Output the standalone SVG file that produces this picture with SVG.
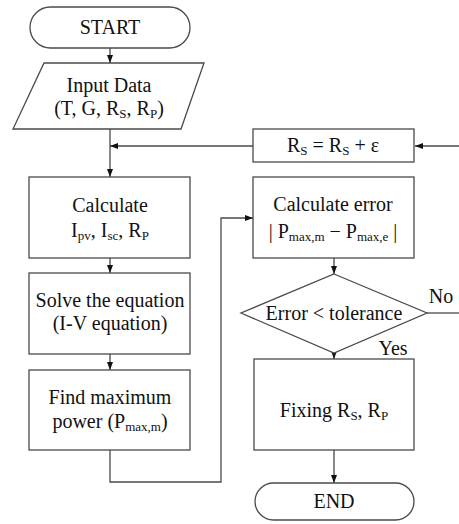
<svg xmlns="http://www.w3.org/2000/svg" width="459" height="524" viewBox="0 0 459 524">
  <style>
    .shape { fill: #ffffff; stroke: #4a4a4a; stroke-width: 1.3; }
    .conn { fill: none; stroke: #4a4a4a; stroke-width: 1.3; }
    .arrow { marker-end: url(#head); }
    text { font-family: 'Liberation Serif', 'DejaVu Serif', serif; font-size: 20px; fill: #111111; text-anchor: middle; }
    .sub { font-size: 13px; }
  </style>
  <defs>
    <marker id="head" markerUnits="userSpaceOnUse" markerWidth="9" markerHeight="7" refX="8" refY="3" orient="auto">
      <path d="M0,0 L8,3 L0,6 z" fill="#111111"/>
    </marker>
  </defs>

  <!-- connectors -->
  <g id="connectors">
    <line class="conn arrow" x1="110" y1="48" x2="110" y2="63"/>
    <line class="conn arrow" x1="110" y1="129" x2="110" y2="177"/>
    <line class="conn arrow" x1="253" y1="146" x2="110" y2="146"/>
    <line class="conn arrow" x1="459" y1="146" x2="415" y2="146"/>
    <line class="conn arrow" x1="110" y1="258" x2="110" y2="273"/>
    <line class="conn arrow" x1="110" y1="354" x2="110" y2="370"/>
    <path class="conn arrow" d="M110,450 V482 H221 V218 H253"/>
    <line class="conn arrow" x1="334" y1="258" x2="334" y2="274"/>
    <line class="conn" x1="427" y1="313" x2="459" y2="313"/>
    <line class="conn arrow" x1="334" y1="353" x2="334" y2="359"/>
    <line class="conn arrow" x1="334" y1="450" x2="334" y2="483"/>
  </g>

  <!-- start terminator -->
  <g id="start">
    <rect class="shape" x="30" y="7" width="160" height="41" rx="20.5"/>
    <text x="110" y="34" font-family="Liberation Serif">START</text>
  </g>

  <!-- input data -->
  <g id="input">
    <polygon class="shape" points="44,63 204,63 181,129 13,129"/>
    <text x="109" y="92">Input Data</text>
    <text x="109" y="115">(T, G, R<tspan class="sub" dy="3">S</tspan><tspan dy="-3">, R</tspan><tspan class="sub" dy="3">P</tspan><tspan dy="-3">)</tspan></text>
  </g>

  <!-- calculate parameters -->
  <g id="calculate">
    <rect class="shape" x="29" y="177" width="161" height="81"/>
    <text x="110" y="212">Calculate</text>
    <text x="110" y="237">I<tspan class="sub" dy="3">pv</tspan><tspan dy="-3">, I</tspan><tspan class="sub" dy="3">sc</tspan><tspan dy="-3">, R</tspan><tspan class="sub" dy="3">P</tspan></text>
  </g>

  <!-- solve -->
  <g id="solve">
    <rect class="shape" x="29" y="273" width="161" height="81"/>
    <text x="110" y="307">Solve the equation</text>
    <text x="110" y="330">(I-V equation)</text>
  </g>

  <!-- find max power -->
  <g id="findmax">
    <rect class="shape" x="29" y="370" width="161" height="80"/>
    <text x="110" y="404">Find maximum</text>
    <text x="110" y="428">power (P<tspan class="sub" dy="3">max,m</tspan><tspan dy="-3">)</tspan></text>
  </g>

  <!-- update Rs -->
  <g id="update">
    <rect class="shape" x="253" y="129" width="161" height="33"/>
    <text x="333" y="152">R<tspan class="sub" dy="3">S</tspan><tspan dy="-3"> = R</tspan><tspan class="sub" dy="3">S</tspan><tspan dy="-3"> + ε</tspan></text>
  </g>

  <!-- calculate error -->
  <g id="error">
    <rect class="shape" x="253" y="177" width="161" height="81"/>
    <text x="333" y="211">Calculate error</text>
    <text x="333" y="238">| P<tspan class="sub" dy="3">max,m</tspan><tspan dy="-3"> − P</tspan><tspan class="sub" dy="3">max,e</tspan><tspan dy="-3"> |</tspan></text>
  </g>

  <!-- decision -->
  <g id="decision">
    <polygon class="shape" points="334,274 427,313 334,353 241,313"/>
    <text x="334" y="320">Error &lt; tolerance</text>
    <text x="441" y="303">No</text>
    <text x="393" y="355">Yes</text>
  </g>

  <!-- fixing -->
  <g id="fixing">
    <rect class="shape" x="254" y="359" width="160" height="91"/>
    <text x="334" y="417">Fixing R<tspan class="sub" dy="3">S</tspan><tspan dy="-3">, R</tspan><tspan class="sub" dy="3">P</tspan></text>
  </g>

  <!-- end terminator -->
  <g id="end">
    <rect class="shape" x="255" y="483" width="159" height="37" rx="18.5"/>
    <text x="334" y="508">END</text>
  </g>
</svg>
